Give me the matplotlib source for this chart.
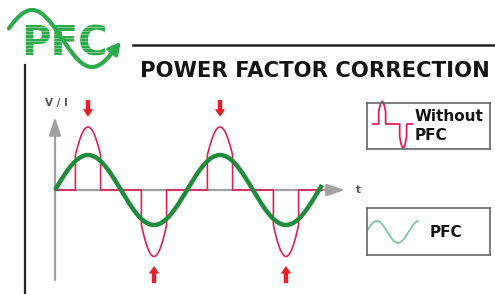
import numpy as np
import matplotlib
matplotlib.use("Agg")
import matplotlib.pyplot as plt
from matplotlib.lines import Line2D

# ---------------- data ----------------
TITLE = "POWER FACTOR CORRECTION"
LOGO_TEXT = "PFC"
Y_LABEL = "V / I"
X_LABEL = "t"
LEGEND_LABELS = ["Without\nPFC", "PFC"]

# waveform (t in radians, values in units of the sine amplitude)
GREEN_AMPLITUDE = 1.0
T_START = 0.0
T_END = 12.71
PULSE_CENTERS = [np.pi / 2, 3 * np.pi / 2, 5 * np.pi / 2, 7 * np.pi / 2]
PULSE_PEAKS = [1.8, -1.9, 1.8, -1.9]
PULSE_EDGES = [1.0, -1.0, 1.0, -1.0]
PULSE_HALF_WIDTH = 0.6
# marker arrows (tail value, tip value) above / below each pulse
ARROW_TAILS = [2.57, -2.66, 2.57, -2.66]
ARROW_TIPS = [2.09, -2.17, 2.09, -2.17]
AXIS_X_TIP = 13.81
AXIS_Y_RANGE = (-2.57, 2.09)

# legend icons
ICON_RED_T = (0.2, 6.1)
ICON_GREEN_T = (0.23, 7.7)

# ---------------- style ----------------
W, H = 495, 294
GREEN = "#1f8c3c"
RED = "#e0205a"
ARROW_RED = "#e8202e"
GRAY = "#a0a0a0"
DARK = "#141414"
LOGO_GREEN = "#2eaa4c"
LIGHT_GREEN = "#72c49a"

fig = plt.figure(figsize=(W / 100, H / 100), dpi=100)
fig.patch.set_facecolor("white")


def px_axes(x0, y0, x1, y1):
    return fig.add_axes([x0 / W, 1 - y1 / H, (x1 - x0) / W, (y1 - y0) / H])


def red_wave(t0, t1, centers, peaks, edges, hw):
    xs, ys = [t0], [0.0]
    for c, p, e in zip(centers, peaks, edges):
        a, b = c - hw, c + hw
        if b < t0 or a > t1:
            continue
        k = np.arccos(e / p) / hw
        tt = np.linspace(a, b, 60)
        xs += [a, a] + list(tt) + [b, b]
        ys += [0.0, e] + list(p * np.cos(k * (tt - c))) + [e, 0.0]
    xs.append(t1)
    ys.append(0.0)
    return np.array(xs), np.array(ys)


# ---------------- main plot ----------------
SX = 132 / (2 * np.pi)   # px per radian
SY = 35.0                # px per unit
X0, Y0 = 55, 190         # origin in px
ax = px_axes(40, 95, 370, 290)
ax.set_xlim((40 - X0) / SX, (370 - X0) / SX)
ax.set_ylim((Y0 - 290) / SY, (Y0 - 95) / SY)
ax.axis("off")

# axes arrows
ax.annotate("", xy=(AXIS_X_TIP, 0), xytext=(0, 0),
            arrowprops=dict(arrowstyle="-|>,head_length=1.1,head_width=0.36",
                            color=GRAY, lw=1.6, mutation_scale=10,
                            shrinkA=0, shrinkB=0), zorder=1)
ax.annotate("", xy=(0, AXIS_Y_RANGE[1]), xytext=(0, AXIS_Y_RANGE[0]),
            arrowprops=dict(arrowstyle="-|>,head_length=1.1,head_width=0.36",
                            color=GRAY, lw=1.6, mutation_scale=10,
                            shrinkA=0, shrinkB=0), zorder=1)

rx, ry = red_wave(T_START, T_END, PULSE_CENTERS, PULSE_PEAKS, PULSE_EDGES,
                  PULSE_HALF_WIDTH)
ax.plot(rx, ry, color=RED, lw=1.2, zorder=2, solid_joinstyle="miter")

tg = np.linspace(T_START, T_END, 400)
ax.plot(tg, GREEN_AMPLITUDE * np.sin(tg), color=GREEN, lw=3.2, zorder=3,
        solid_capstyle="butt")

for c, tail, tip in zip(PULSE_CENTERS, ARROW_TAILS, ARROW_TIPS):
    ax.annotate("", xy=(c, tip), xytext=(c, tail),
                arrowprops=dict(arrowstyle="simple,head_length=0.55,head_width=0.75,tail_width=0.32",
                                color=ARROW_RED, lw=0, mutation_scale=10,
                                shrinkA=0, shrinkB=0), zorder=4)

ax.text(0.05, 2.49, Y_LABEL, ha="center", va="center", fontsize=7.5,
        fontweight="bold", color="#555555")
ax.text(14.43, 0.0, X_LABEL, ha="center", va="center", fontsize=7.5,
        fontweight="bold", color="#555555")

# ---------------- legend boxes ----------------
ISX = 6.68
# box 1
b1 = px_axes(367, 103, 490, 149)
b1.set_xlim(ICON_RED_T[0] - 6 / ISX, ICON_RED_T[0] + (123 - 6) / ISX)
b1.set_ylim(-(149 - 124) / 12.5, (124 - 103) / 12.5)
b1.set_xticks([]); b1.set_yticks([])
for s in b1.spines.values():
    s.set_color("#666666"); s.set_linewidth(1.2)
ix, iy = red_wave(ICON_RED_T[0], ICON_RED_T[1], PULSE_CENTERS[:2],
                  PULSE_PEAKS[:2], PULSE_EDGES[:2], 0.52)
b1.plot(ix, iy, color=RED, lw=1.3, clip_on=False)
b1.text(0.39, 0.5, LEGEND_LABELS[0], transform=b1.transAxes, ha="left",
        va="center", fontsize=11, fontweight="bold", color=DARK,
        linespacing=1.3)

# box 2
b2 = px_axes(367, 208, 490, 255)
b2.set_xlim(ICON_GREEN_T[0] - 1 / ISX, ICON_GREEN_T[0] + (123 - 1) / ISX)
b2.set_ylim(-(255 - 232) / 11.0, (232 - 208) / 11.0)
b2.set_xticks([]); b2.set_yticks([])
for s in b2.spines.values():
    s.set_color("#666666"); s.set_linewidth(1.2)
tgi = np.linspace(ICON_GREEN_T[0], ICON_GREEN_T[1], 200)
b2.plot(tgi, np.sin(tgi), color=LIGHT_GREEN, lw=1.2)
b2.text(0.51, 0.47, LEGEND_LABELS[1], transform=b2.transAxes, ha="left",
        va="center", fontsize=11, fontweight="bold", color=DARK)

# ---------------- header ----------------
fig.add_artist(Line2D([133 / W, 1.0], [1 - 45 / H, 1 - 45 / H],
                      color="#222222", lw=1.8))
fig.add_artist(Line2D([25 / W, 25 / W], [1 - 65 / H, 0.0],
                      color="#222222", lw=1.6))
fig.text(140 / W, 1 - 77 / H, TITLE, ha="left", va="baseline",
         fontsize=15.2, fontweight="bold", color=DARK)

# logo
lg = px_axes(0, 0, 135, 75)
lg.set_xlim(0, 135)
lg.set_ylim(75, 0)
lg.axis("off")
lg.text(21, 56, LOGO_TEXT, ha="left", va="baseline", fontsize=29,
        fontweight="bold", color=LOGO_GREEN, zorder=2)
for yy in np.arange(27.5, 56, 3.5):
    lg.plot([18, 110], [yy, yy], color="white", lw=0.5, alpha=0.55, zorder=3)
ts = np.linspace(0.36, 5.75, 200)
sx = 32 + (ts - np.pi / 2) * 120 / (2 * np.pi)
sy = 38.5 - 28.5 * np.sin(ts)
lg.plot(sx, sy, color=LOGO_GREEN, lw=3.0, solid_capstyle="round", zorder=4)
lg.annotate("", xy=(sx[-1] + 9, sy[-1] - 11), xytext=(sx[-1], sy[-1]),
            arrowprops=dict(arrowstyle="-|>,head_length=0.7,head_width=0.38",
                            color=LOGO_GREEN, lw=2.6, mutation_scale=10,
                            shrinkA=0, shrinkB=0), zorder=4)

fig.savefig("out.png", dpi=100, facecolor="white")
